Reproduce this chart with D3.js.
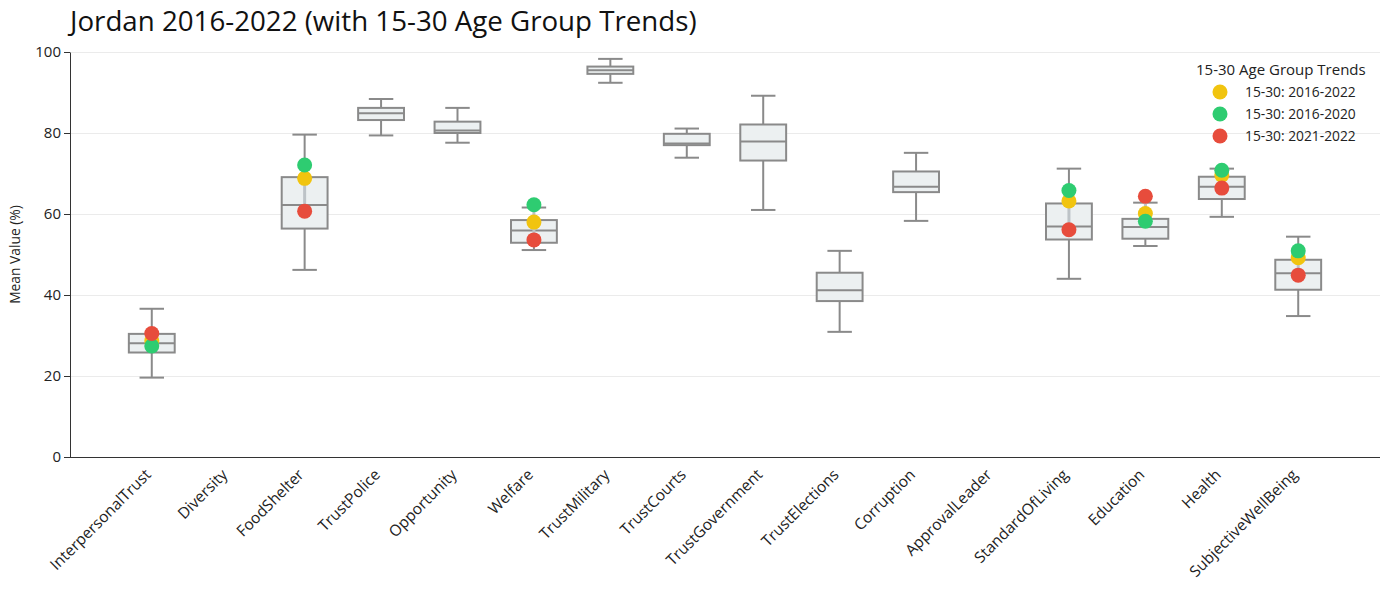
<!DOCTYPE html>
<html lang="en">
<head>
<meta charset="UTF-8">
<title>Jordan 2016-2022</title>
<script src="https://d3js.org/d3.v7.min.js"></script>
<style>
  body { margin: 0; background: #fff; font-family: "Open Sans", sans-serif; }
  svg text { font-family: "Open Sans", sans-serif; }
  .grid line { stroke: #ebebeb; }
  .grid path { display: none; }
  .axis path, .axis line { stroke: #333; }
  .axis text { fill: #222; font-family: "Open Sans", sans-serif; }
</style>
</head>
<body>
<svg width="1389" height="590"></svg>
<script>
// categories and box stats (null = no data)
const categories = ["InterpersonalTrust", "Diversity", "FoodShelter", "TrustPolice", "Opportunity", "Welfare",
  "TrustMilitary", "TrustCourts", "TrustGovernment", "TrustElections", "Corruption", "ApprovalLeader",
  "StandardOfLiving", "Education", "Health", "SubjectiveWellBeing"];
const whiskerLow  = [19.6, null, 46.2, 79.4, 77.6, 51.1, 92.4, 73.9, 61.0, 30.9, 58.3, null, 44.0, 52.1, 59.3, 34.8];
const q1          = [25.8, null, 56.4, 83.2, 80.0, 52.9, 94.6, 77.0, 73.2, 38.5, 65.4, null, 53.7, 53.9, 63.7, 41.3];
const median      = [28.1, null, 62.2, 84.9, 80.6, 55.9, 95.5, 77.4, 77.9, 41.2, 66.7, null, 56.9, 56.8, 66.7, 45.4];
const q3          = [30.4, null, 69.1, 86.2, 82.8, 58.5, 96.4, 79.8, 82.1, 45.5, 70.5, null, 62.6, 58.8, 69.2, 48.7];
const whiskerHigh = [36.6, null, 79.6, 88.4, 86.2, 61.6, 98.3, 81.1, 89.2, 50.9, 75.1, null, 71.2, 62.8, 71.2, 54.4];

// 15-30 age group trend values
const trend2016_2022 = [28.7, null, 68.8, null, null, 58.0, null, null, null, null, null, null, 63.2, 60.1, 69.6, 49.2];
const trend2016_2020 = [27.4, null, 72.1, null, null, 62.3, null, null, null, null, null, null, 65.8, 58.2, 70.8, 50.9];
const trend2021_2022 = [30.5, null, 60.7, null, null, 53.6, null, null, null, null, null, null, 56.1, 64.4, 66.4, 44.9];

const seriesNames = ["15-30: 2016-2022", "15-30: 2016-2020", "15-30: 2021-2022"];
const seriesColors = ["#f1c40f", "#2ecc71", "#e74c3c"];
const series = [trend2016_2022, trend2016_2020, trend2021_2022];

const width = 1389, height = 590;
const margin = {top: 52, right: 9, bottom: 133, left: 70};

const svg = d3.select("svg");

const x = d3.scalePoint()
    .domain(categories)
    .range([margin.left, width - margin.right])
    .padding(1.07);
const step = x.step();
const boxW = step * 0.6, capW = step * 0.32;

const y = d3.scaleLinear()
    .domain([0, 100])
    .range([height - margin.bottom, margin.top]);

// gridlines
svg.append("g")
    .attr("class", "grid")
    .attr("transform", `translate(${margin.left},0)`)
    .call(d3.axisLeft(y).ticks(5).tickSize(-(width - margin.left - margin.right)).tickFormat(""));

// axes
const yAxis = svg.append("g")
    .attr("class", "axis")
    .attr("transform", `translate(${margin.left},0)`)
    .call(d3.axisLeft(y).ticks(5).tickSizeOuter(0));
yAxis.attr("font-family", null);
yAxis.selectAll("text").style("font-size", "15px");

const xAxis = svg.append("g")
    .attr("class", "axis")
    .attr("transform", `translate(0,${height - margin.bottom})`)
    .call(d3.axisBottom(x).tickSize(0).tickSizeOuter(0));
xAxis.attr("font-family", null);
xAxis.select(".domain").attr("d", `M${margin.left},0.5H${width - margin.right}`);
xAxis.selectAll("text")
    .style("font-size", "15.5px")
    .attr("fill", "#333")
    .attr("text-anchor", "end")
    .attr("transform", "translate(-8,11) rotate(-45)")
    .attr("dy", "0.7em")
    .attr("y", 0);

// y label
svg.append("text")
    .attr("transform", `translate(20,${(margin.top + height - margin.bottom) / 2}) rotate(-90)`)
    .attr("text-anchor", "middle")
    .style("font-size", "13.8px")
    .attr("fill", "#222")
    .text("Mean Value (%)");

// title
svg.append("text")
    .attr("x", margin.left)
    .attr("y", 31)
    .style("font-size", "27.7px")
    .attr("fill", "#111")
    .text("Jordan 2016-2022 (with 15-30 Age Group Trends)");

// boxes
const idx = d3.range(categories.length).filter(i => median[i] != null);
const grey = "#8a8a8a";
const boxes = svg.append("g").selectAll("g")
    .data(idx)
    .join("g")
    .attr("transform", i => `translate(${x(categories[i])},0)`);

boxes.append("line")
    .attr("y1", i => y(whiskerLow[i])).attr("y2", i => y(q1[i]))
    .attr("stroke", grey).attr("stroke-width", 2);
boxes.append("line")
    .attr("y1", i => y(q3[i])).attr("y2", i => y(whiskerHigh[i]))
    .attr("stroke", grey).attr("stroke-width", 2);
boxes.append("line")
    .attr("x1", -capW / 2).attr("x2", capW / 2)
    .attr("y1", i => y(whiskerLow[i])).attr("y2", i => y(whiskerLow[i]))
    .attr("stroke", grey).attr("stroke-width", 2);
boxes.append("line")
    .attr("x1", -capW / 2).attr("x2", capW / 2)
    .attr("y1", i => y(whiskerHigh[i])).attr("y2", i => y(whiskerHigh[i]))
    .attr("stroke", grey).attr("stroke-width", 2);
boxes.append("rect")
    .attr("x", -boxW / 2).attr("width", boxW)
    .attr("y", i => y(q3[i])).attr("height", i => y(q1[i]) - y(q3[i]))
    .attr("fill", "#ecf0f1").attr("stroke", grey).attr("stroke-width", 2);
boxes.append("line")
    .attr("x1", -boxW / 2).attr("x2", boxW / 2)
    .attr("y1", i => y(median[i])).attr("y2", i => y(median[i]))
    .attr("stroke", grey).attr("stroke-width", 2);

// trend range lines + dots
const tIdx = d3.range(categories.length).filter(i => trend2016_2022[i] != null);
svg.append("g").selectAll("line")
    .data(tIdx)
    .join("line")
    .attr("x1", i => x(categories[i])).attr("x2", i => x(categories[i]))
    .attr("y1", i => y(d3.min(series, s => s[i])))
    .attr("y2", i => y(d3.max(series, s => s[i])))
    .attr("stroke", "#bdc3c7").attr("stroke-width", 3);

series.forEach((s, k) => {
  svg.append("g").selectAll("circle")
      .data(tIdx)
      .join("circle")
      .attr("cx", i => x(categories[i]))
      .attr("cy", i => y(s[i]))
      .attr("r", 7.5)
      .attr("fill", seriesColors[k]);
});

// legend
const legend = svg.append("g").attr("transform", "translate(1196,0)");
legend.append("text")
    .attr("x", 0).attr("y", 75)
    .style("font-size", "15px").attr("fill", "#222")
    .text("15-30 Age Group Trends");
legend.selectAll("g.item")
    .data(seriesNames)
    .join("g")
    .attr("class", "item")
    .attr("transform", (d, k) => `translate(0,${92 + k * 22})`)
    .each(function(d, k) {
      const g = d3.select(this);
      g.append("circle").attr("cx", 24).attr("cy", 0).attr("r", 7.5).attr("fill", seriesColors[k]);
      g.append("text").attr("x", 49).attr("y", 0).attr("dy", "0.35em")
        .style("font-size", "13.8px").attr("fill", "#222").text(d);
    });
</script>
</body>
</html>
